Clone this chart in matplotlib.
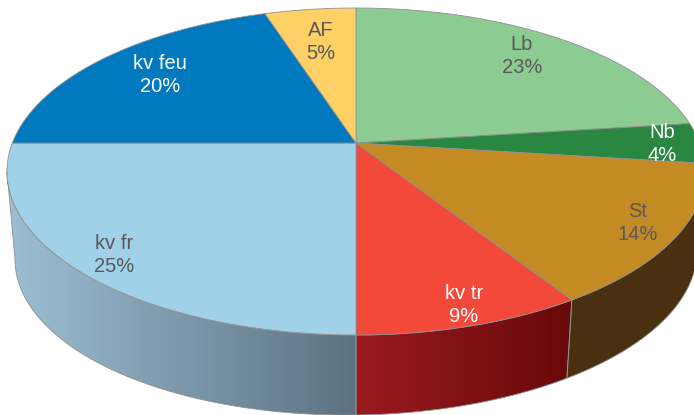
import numpy as np
import matplotlib
matplotlib.use('Agg')
import matplotlib.pyplot as plt
from matplotlib.colors import to_rgb
from matplotlib.patches import Polygon

categories = ['Lb', 'Nb', 'St', 'kv tr', 'kv fr', 'kv feu', 'AF']
shares = [23, 4, 14, 9, 25, 20, 5]

top_colors = ['#8CCB91', '#2A8742', '#C48A24', '#F2493A', '#A0D1E8', '#0079BF', '#FFD066']
side_left = ['#6f9f73', '#1c5c2c', '#4a3010', '#9a1b1f', '#9dbfd3', '#005a90', '#c09a40']
side_right = ['#6f9f73', '#1c5c2c', '#4a3010', '#680909', '#5c7282', '#005a90', '#c09a40']
text_colors = ['#595959', 'white', '#595959', 'white', '#595959', 'white', '#595959']
label_xy = [(522, 56), (662, 144), (638, 223), (464, 305), (114, 255), (160, 75), (321, 42)]

# pie geometry in pixels, top and bottom rim of the tilted disc
cx = 356
top_rx, top_cy, top_ry = 349, 171.5, 163.5
bot_rx, bot_cy, bot_ry = 341, 255, 160
bot_shear = 0.012
tilt = 0.174
edge = '#909090'


def rim(t, rx, cy, ry, shear=0.0):
    # t is the fraction of the circle, clockwise from 12 o'clock.
    # the disc automorphism moves the centre of the pie off the ellipse centre (perspective)
    X, Y = np.sin(2 * np.pi * t), np.cos(2 * np.pi * t)
    d = 1 + tilt * Y
    x = cx + rx * X * np.sqrt(1 - tilt ** 2) / d
    return x, cy - ry * (Y + tilt) / d - shear * (x - cx)


def arc(t0, t1, rx, cy, ry, shear=0.0):
    t = np.linspace(t0, t1, 200)
    return np.column_stack(rim(t, rx, cy, ry, shear))


fig = plt.figure(figsize=(6.94, 4.15), dpi=100)
ax = fig.add_axes([0, 0, 1, 1])

edges = np.cumsum([0] + shares) / sum(shares)
centre = (cx, top_cy - top_ry * tilt)

# silhouette of the side wall is where the rim is leftmost / rightmost
sil = np.arccos(-tilt) / (2 * np.pi)

for i in range(len(categories)):
    t0, t1 = max(edges[i], sil), min(edges[i + 1], 1 - sil)
    if t1 <= t0:
        continue
    pts = np.vstack([arc(t0, t1, top_rx, top_cy, top_ry),
                     arc(t0, t1, bot_rx, bot_cy, bot_ry, bot_shear)[::-1]])
    poly = Polygon(pts, closed=True, fc='none', ec=edge, lw=0.6, zorder=2)
    ax.add_patch(poly)
    x0, x1 = pts[:, 0].min(), pts[:, 0].max()
    ramp = np.linspace(0, 1, 256)[None, :, None]
    # left and right colours run across the wedge
    img = (1 - ramp) * np.array(to_rgb(side_left[i])) + ramp * np.array(to_rgb(side_right[i]))
    im = ax.imshow(img, extent=[x0, x1, pts[:, 1].max(), pts[:, 1].min()],
                   aspect='auto', zorder=1)
    im.set_clip_path(poly)

for i in range(len(categories)):
    pts = np.vstack([[centre], arc(edges[i], edges[i + 1], top_rx, top_cy, top_ry)])
    ax.add_patch(Polygon(pts, closed=True, fc=top_colors[i], ec=edge, lw=0.6, zorder=3))
    ax.text(label_xy[i][0], label_xy[i][1], '%s\n%d%%' % (categories[i], shares[i]),
            color=text_colors[i], fontsize=14.5, ha='center', va='center',
            linespacing=1.3, family='Liberation Sans', zorder=4)

ax.set_xlim(0, 694)
ax.set_ylim(415, 0)
ax.axis('off')
fig.savefig('out.png', dpi=100)
